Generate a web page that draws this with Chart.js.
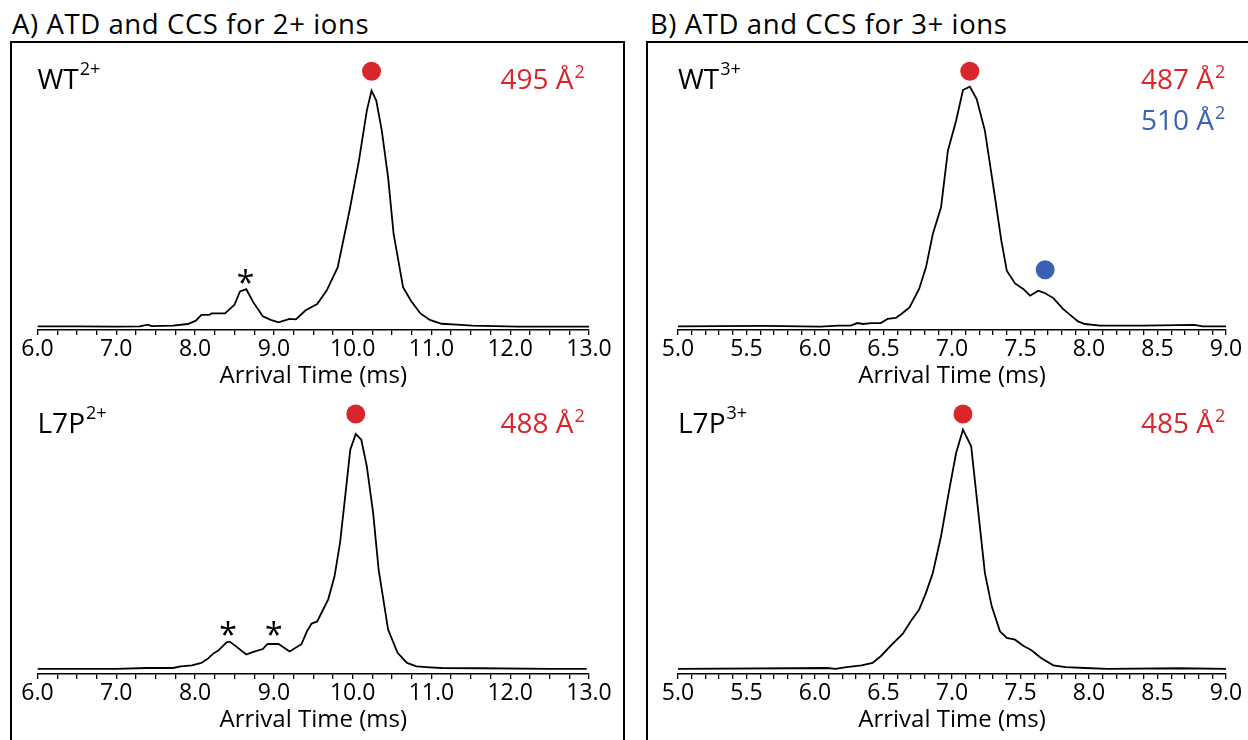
<!DOCTYPE html>
<html>
<head>
<meta charset="utf-8">
<script src="https://cdn.jsdelivr.net/npm/chart.js@4.4.1/dist/chart.umd.min.js"></script>
<style>
  body { margin: 0; background: #fff; }
  #fig { position: relative; width: 1248px; height: 740px; overflow: hidden; font-family: 'Open Sans', sans-serif; }
  .title { position: absolute; font-size: 27.5px; letter-spacing: 0.6px; line-height: 1; color: #000; white-space: nowrap; }
  .box { position: absolute; border: 2px solid #000; }
  canvas { position: absolute; }
</style>
</head>
<body>
<div id="fig">
  <div class="title" style="left:12px; top:10px">A) ATD and CCS for 2+ ions</div>
  <div class="title" style="left:650px; top:10px">B) ATD and CCS for 3+ ions</div>
  <div class="box" style="left:10px; top:41px; width:611px; height:760px"></div>
  <div class="box" style="left:646px; top:41px; width:700px; height:760px"></div>
  <canvas id="wt2" width="640" height="337" style="left:0; top:54px"></canvas>
  <canvas id="l7p2" width="640" height="337" style="left:0; top:398px"></canvas>
  <canvas id="wt3" width="608" height="337" style="left:640px; top:54px"></canvas>
  <canvas id="l7p3" width="608" height="337" style="left:640px; top:398px"></canvas>
</div>
<script>
// arrival time (ms) and normalised signal for each ion
const wt2Time = [6.00, 6.50, 7.00, 7.30, 7.40, 7.45, 7.72, 7.91, 8.01, 8.08, 8.18, 8.21, 8.38, 8.50, 8.57, 8.65, 8.74, 8.86, 8.96, 9.06, 9.20, 9.28, 9.40, 9.55, 9.67, 9.81, 9.96, 10.08, 10.18, 10.24, 10.30, 10.37, 10.45, 10.52, 10.64, 10.74, 10.86, 10.98, 11.13, 11.32, 11.52, 12.10, 12.50, 13.00];
const wt2Signal = [1.5, 1.5, 1.4, 1.5, 2.2, 1.6, 1.8, 2.5, 3.9, 6.3, 6.3, 6.9, 6.9, 10.5, 16.1, 17.0, 11.5, 5.7, 4.2, 3.2, 4.6, 4.4, 8.1, 10.8, 16.4, 26.1, 49.7, 70.6, 91.4, 99.7, 95.6, 83.1, 63.6, 40.0, 17.8, 12.2, 6.9, 4.2, 2.6, 2.2, 1.8, 1.4, 1.4, 1.4];

const l7p2Time = [6.00, 7.00, 7.38, 7.72, 7.82, 7.96, 8.08, 8.16, 8.23, 8.30, 8.40, 8.44, 8.52, 8.65, 8.74, 8.86, 8.92, 9.06, 9.20, 9.35, 9.42, 9.48, 9.55, 9.69, 9.77, 9.84, 9.91, 9.97, 10.04, 10.11, 10.18, 10.26, 10.33, 10.45, 10.57, 10.69, 10.81, 10.98, 11.13, 11.62, 12.50, 12.97];
const l7p2Signal = [2.1, 2.1, 2.5, 2.5, 3.2, 3.6, 4.6, 6.3, 8.5, 9.9, 13.2, 13.5, 11.5, 8.1, 9.2, 10.4, 12.5, 12.5, 9.4, 12.4, 17.8, 21.0, 21.9, 31.1, 40.7, 54.6, 75.4, 93.5, 100.0, 97.6, 86.5, 67.1, 43.5, 18.5, 8.8, 4.6, 3.2, 2.8, 2.5, 2.4, 2.1, 2.1];

const wt3Time = [5.00, 5.62, 6.04, 6.17, 6.26, 6.31, 6.35, 6.41, 6.48, 6.53, 6.59, 6.63, 6.69, 6.76, 6.81, 6.86, 6.92, 6.97, 7.03, 7.08, 7.13, 7.18, 7.24, 7.31, 7.36, 7.40, 7.46, 7.52, 7.57, 7.63, 7.68, 7.74, 7.81, 7.86, 7.92, 7.97, 8.08, 8.39, 8.77, 8.83, 9.00];
const wt3Signal = [1.5, 1.7, 1.4, 1.8, 1.8, 2.9, 2.5, 2.9, 2.9, 4.6, 5.0, 6.7, 9.4, 17.1, 26.1, 40.0, 51.1, 74.7, 87.2, 100.0, 101.4, 96.2, 83.1, 56.7, 37.2, 24.7, 19.4, 17.1, 14.3, 16.4, 15.3, 13.3, 8.8, 6.4, 3.6, 2.5, 1.8, 1.8, 2.1, 1.5, 1.5];

const l7p3Time = [5.00, 5.84, 6.09, 6.15, 6.23, 6.34, 6.42, 6.48, 6.56, 6.64, 6.70, 6.76, 6.81, 6.86, 6.92, 6.98, 7.03, 7.08, 7.14, 7.19, 7.24, 7.29, 7.35, 7.40, 7.46, 7.52, 7.58, 7.65, 7.74, 7.83, 7.97, 8.14, 8.66, 9.00];
const l7p3Signal = [2.1, 2.4, 2.5, 2.1, 2.9, 3.6, 4.6, 7.4, 12.2, 16.7, 22.1, 26.8, 33.8, 42.1, 57.4, 76.8, 92.1, 101.8, 94.9, 68.5, 42.1, 28.2, 17.8, 15.0, 14.3, 11.8, 9.9, 6.7, 3.6, 2.9, 2.5, 2.1, 2.4, 2.1];

// conformer markers (position over the peak they belong to) and their CCS
const wt2Dots = [{ x: 10.24, y: 107.8, ccs: '495', color: '#d8262c' }];
const l7p2Dots = [{ x: 10.04, y: 108.3, ccs: '488', color: '#d8262c' }];
const wt3Dots = [{ x: 7.13, y: 107.8, ccs: '487', color: '#d8262c' }, { x: 7.68, y: 25.1, ccs: '510', color: '#3a61b3' }];
const l7p3Dots = [{ x: 7.08, y: 108.3, ccs: '485', color: '#d8262c' }];

// asterisks over minor features
const wt2StarTime = [8.64];
const wt2StarLevel = [21.9];
const l7p2StarTime = [8.42, 9.0];
const l7p2StarLevel = [18.8, 18.8];

// labelled ticks on each time axis
const ticks2 = [6, 7, 8, 9, 10, 11, 12, 13];
const ticks3 = [5, 5.5, 6, 6.5, 7, 7.5, 8, 8.5, 9];

const FONT = 'Open Sans';
Chart.defaults.font.family = FONT;
Chart.defaults.color = '#000';

// sample name, CCS values and asterisks
const panelLabels = {
  id: 'panelLabels',
  afterDatasetsDraw(chart, args, opts) {
    const { ctx, chartArea, scales: { x, y } } = chart;
    const top = chartArea.top;
    ctx.save();
    ctx.textBaseline = 'alphabetic';
    ctx.textAlign = 'left';
    ctx.fillStyle = '#000';
    ctx.font = `28px "${FONT}"`;
    ctx.fillText(opts.name, chartArea.left, top + 35);
    const w = ctx.measureText(opts.name).width;
    ctx.font = `18px "${FONT}"`;
    ctx.fillText(opts.charge, chartArea.left + w + 1, top + 21);

    opts.dots.forEach((d, i) => {
      const by = top + 35 + i * 41;
      ctx.fillStyle = d.color;
      ctx.font = `28px "${FONT}"`;
      const txt = d.ccs + ' Å';
      ctx.fillText(txt, chartArea.left + 463, by);
      const tw = ctx.measureText(txt).width;
      ctx.font = `18px "${FONT}"`;
      ctx.fillText('2', chartArea.left + 463 + tw + 1, by - 11);
    });

    ctx.fillStyle = '#000';
    ctx.font = `32px "${FONT}"`;
    ctx.textAlign = 'center';
    opts.starTime.forEach((t, i) => {
      ctx.fillText('*', x.getPixelForValue(t), y.getPixelForValue(opts.starLevel[i]) + 17);
    });
    ctx.restore();
  }
};

function makeChart(id, time, signal, dots, range, labelled, step, pad, labels) {
  const trace = time.map((t, i) => ({ x: t, y: signal[i] }));
  return new Chart(document.getElementById(id), {
    type: 'scatter',
    data: {
      datasets: [
        {
          data: trace,
          showLine: true,
          borderColor: '#000',
          borderWidth: 1.8,
          pointRadius: 0,
          tension: 0,
        },
        {
          data: dots.map((d) => ({ x: d.x, y: d.y })),
          backgroundColor: dots.map((d) => d.color),
          pointRadius: 9.5,
          borderWidth: 0,
          clip: false,
        },
      ],
    },
    options: {
      responsive: false,
      animation: false,
      events: [],
      layout: { autoPadding: false, padding: { left: pad[0], right: pad[1], top: 0, bottom: 0 } },
      scales: {
        x: {
          type: 'linear',
          min: range[0],
          max: range[1],
          afterFit: (s) => { s.height = 61; },
          ticks: {
            stepSize: step,
            autoSkip: false,
            maxRotation: 0,
            padding: 1,
            font: { size: 23 },
            color: '#000',
            callback: (v) => (labelled.some((l) => Math.abs(l - v) < 1e-6) ? v.toFixed(1) : ''),
          },
          grid: { drawOnChartArea: false, tickLength: 5, color: '#000', lineWidth: 1.3 },
          border: { color: '#000', width: 1.6 },
          title: { display: true, text: 'Arrival Time (ms)', font: { size: 24 }, color: '#000', padding: 0 },
        },
        y: { display: false, min: 0, max: 115 },
      },
      plugins: {
        legend: { display: false },
        tooltip: { enabled: false },
        panelLabels: labels,
      },
    },
    plugins: [panelLabels],
  });
}

makeChart('wt2', wt2Time, wt2Signal, wt2Dots, [6, 13], ticks2, 0.25, [37.5, 51],
  { name: 'WT', charge: '2+', dots: wt2Dots, starTime: wt2StarTime, starLevel: wt2StarLevel });
makeChart('l7p2', l7p2Time, l7p2Signal, l7p2Dots, [6, 13], ticks2, 0.25, [37.5, 51],
  { name: 'L7P', charge: '2+', dots: l7p2Dots, starTime: l7p2StarTime, starLevel: l7p2StarLevel });
makeChart('wt3', wt3Time, wt3Signal, wt3Dots, [5, 9], ticks3, 0.1, [38, 22],
  { name: 'WT', charge: '3+', dots: wt3Dots, starTime: [], starLevel: [] });
makeChart('l7p3', l7p3Time, l7p3Signal, l7p3Dots, [5, 9], ticks3, 0.1, [38, 22],
  { name: 'L7P', charge: '3+', dots: l7p3Dots, starTime: [], starLevel: [] });
</script>
</body>
</html>
